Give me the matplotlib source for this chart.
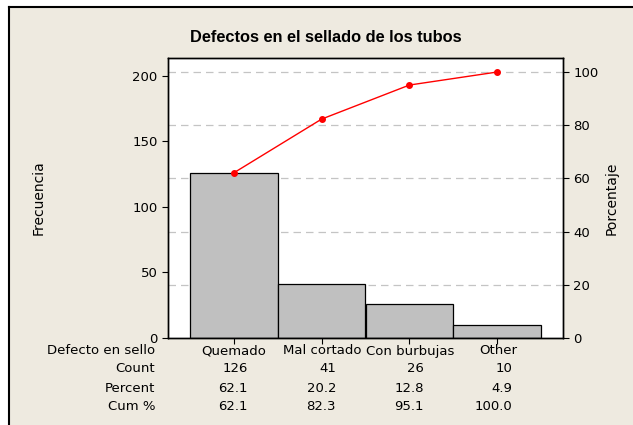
import matplotlib
matplotlib.use("Agg")
import matplotlib.pyplot as plt
from matplotlib.patches import Rectangle
from matplotlib.lines import Line2D

categories = ["Quemado", "Mal cortado", "Con burbujas", "Other"]
counts = [126, 41, 26, 10]
percent = ["62.1", "20.2", "12.8", "4.9"]
cum_pct = [62.1, 82.3, 95.1, 100.0]
cum_labels = ["62.1", "82.3", "95.1", "100.0"]
count_ticks = [0, 50, 100, 150, 200]
pct_ticks = [0, 20, 40, 60, 80, 100]

BG = "#EEEAE0"
W, H = 633, 425

plt.rcParams["font.family"] = ["DejaVu Sans"]

fig = plt.figure(figsize=(W / 100, H / 100), dpi=100, facecolor="white")
fig.patches.append(Rectangle((9 / W, 0), 1 - 9 / W, 1 - 7 / H, transform=fig.transFigure,
                             facecolor=BG, edgecolor="none", zorder=-10))
fig.lines.append(Line2D([9 / W, 9 / W], [0, 1 - 7 / H], transform=fig.transFigure,
                        color="black", lw=1.5))
fig.lines.append(Line2D([9 / W, 1], [1 - 7 / H, 1 - 7 / H], transform=fig.transFigure,
                        color="black", lw=1.5))

ax = fig.add_axes([168 / W, 1 - 338 / H, (563 - 168) / W, (338 - 58) / H])
ax.set_facecolor("white")
total = sum(counts)
ymax = 213.7
x = list(range(len(categories)))

# gridlines at the percent ticks, behind the bars
for p in pct_ticks[1:]:
    ax.axhline(p * total / 100, color="#C4C4C4", lw=0.9, ls=(0, (6, 4)), zorder=0)

ax.bar(x, counts, width=1.0, color="#C0C0C0", edgecolor="black", linewidth=0.9, zorder=2)
ax.set_xlim(-0.75, 3.75)
ax.set_ylim(0, ymax)
ax.set_yticks(count_ticks)
ax.set_xticks(x)
ax.set_xticklabels([])
ax.tick_params(axis="both", direction="out", length=4, labelsize=9.5, width=0.8)
ax.set_ylabel("Frecuencia", fontsize=10)
ax.yaxis.set_label_coords(-(168 - 46) / (563 - 168), 0.5)

ax2 = ax.twinx()
ax2.set_ylim(0, ymax / total * 100)
ax2.set_yticks(pct_ticks)
ax2.tick_params(axis="y", direction="out", length=4, labelsize=9.5, width=0.8)
ax2.plot(x, cum_pct, color="red", lw=1, marker="o", markersize=4, zorder=3)
ax2.set_ylabel("Porcentaje", fontsize=10)
ax2.yaxis.set_label_coords(1 + (605 - 563) / (563 - 168), 0.5)

for a in (ax, ax2):
    for s in a.spines.values():
        s.set_linewidth(1)

fig.text(326 / W, 1 - 37 / H, "Defectos en el sellado de los tubos", ha="center", va="center",
         fontsize=11.8, fontweight="bold", family="Liberation Sans")

# table under the chart
rows = [("Defecto en sello", None, 351), ("Count", [str(c) for c in counts], 368),
        ("Percent", percent, 388), ("Cum %", cum_labels, 407)]
for label, vals, ypix in rows:
    yf = 1 - ypix / H
    fig.text(155 / W, yf, label, ha="right", va="center", fontsize=9.5)
    if vals is None:
        for i, c in enumerate(categories):
            xp = 168 + (i + 0.75) * 88
            fig.text(xp / W, yf, c, ha="center", va="center", fontsize=9.5)
    else:
        for i, v in enumerate(vals):
            xp = 168 + (i + 0.75) * 88 + 14
            fig.text(xp / W, yf, v, ha="right", va="center", fontsize=9.5)

fig.savefig("out.png", dpi=100, facecolor=fig.get_facecolor())
